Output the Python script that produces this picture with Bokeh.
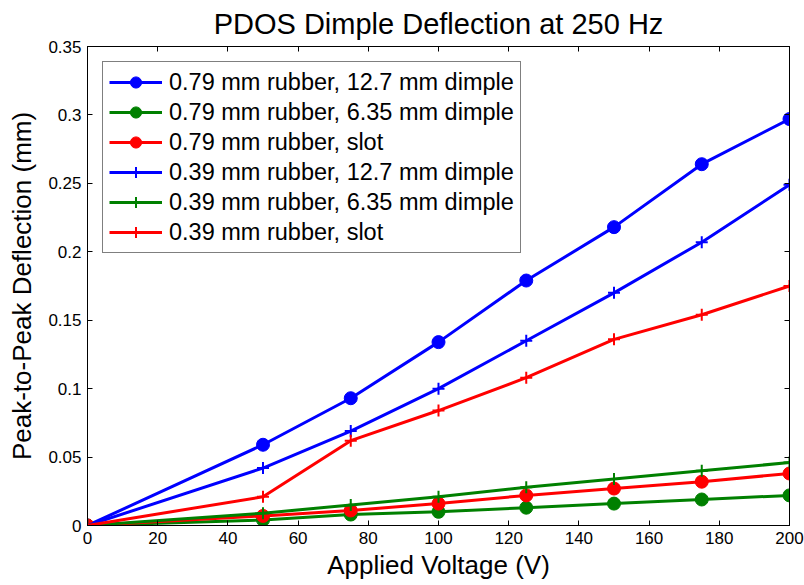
from bokeh.plotting import figure
from bokeh.models import (Legend, LegendItem, FixedTicker, CustomJSTickFormatter,
                          LinearAxis, Range1d)
from bokeh.embed import file_html
from bokeh.resources import INLINE

# ---- data ----
voltage = [0, 50, 75, 100, 125, 150, 175, 200]
r079_d127 = [0, 0.059, 0.093, 0.134, 0.179, 0.218, 0.264, 0.297]
r079_d635 = [0, 0.004, 0.008, 0.010, 0.013, 0.016, 0.019, 0.022]
r079_slot = [0, 0.007, 0.011, 0.016, 0.022, 0.027, 0.032, 0.038]
r039_d127 = [0, 0.042, 0.069, 0.100, 0.135, 0.170, 0.207, 0.249]
r039_d635 = [0, 0.009, 0.015, 0.021, 0.028, 0.034, 0.040, 0.046]
r039_slot = [0, 0.021, 0.062, 0.084, 0.108, 0.136, 0.154, 0.175]

labels = ["0.79 mm rubber, 12.7 mm dimple",
          "0.79 mm rubber, 6.35 mm dimple",
          "0.79 mm rubber, slot",
          "0.39 mm rubber, 12.7 mm dimple",
          "0.39 mm rubber, 6.35 mm dimple",
          "0.39 mm rubber, slot"]
series = [r079_d127, r079_d635, r079_slot, r039_d127, r039_d635, r039_slot]
colors = ["#0000FF", "#008000", "#FF0000", "#0000FF", "#008000", "#FF0000"]
markers = ["circle", "circle", "circle", "cross", "cross", "cross"]

x_ticks = [0, 20, 40, 60, 80, 100, 120, 140, 160, 180, 200]
y_ticks = [0, 0.05, 0.1, 0.15, 0.2, 0.25, 0.3, 0.35]

FONT = "Liberation Sans"

p = figure(width=804, height=584, output_backend="svg", toolbar_location=None,
           x_range=Range1d(0, 200), y_range=Range1d(0, 0.35),
           title="PDOS Dimple Deflection at 250 Hz",
           min_border_left=87, min_border_right=15, min_border_top=46,
           min_border_bottom=59)

p.title.text_font = FONT
p.title.text_font_size = "29px"
p.title.text_font_style = "normal"
p.title.text_color = "black"
p.title.align = "center"
p.title.vertical_align = "top"
p.title.text_line_height = 0.7

p.outline_line_color = "black"
p.outline_line_width = 1
p.xgrid.visible = False
p.ygrid.visible = False

fmt_y = CustomJSTickFormatter(code="return String(Number(tick.toFixed(2)));")

for ax in p.xaxis:
    ax.ticker = FixedTicker(ticks=x_ticks)
    ax.axis_label = "Applied Voltage (V)"
    ax.axis_label_standoff = 3
for ax in p.yaxis:
    ax.ticker = FixedTicker(ticks=y_ticks)
    ax.formatter = fmt_y
    ax.axis_label = "Peak-to-Peak Deflection (mm)"
    ax.axis_label_standoff = 8

for ax in list(p.xaxis) + list(p.yaxis):
    ax.major_tick_in = 5
    ax.major_tick_out = 0
    ax.minor_tick_line_color = None
    ax.major_label_standoff = 6
    ax.major_label_text_font = FONT
    ax.major_label_text_font_size = "17px"
    ax.major_label_text_color = "black"
    ax.axis_label_text_font = FONT
    ax.axis_label_text_font_size = "26px"
    ax.axis_label_text_font_style = "normal"
    ax.axis_label_text_color = "black"
    ax.axis_line_color = "black"
    ax.major_tick_line_color = "black"

blank = CustomJSTickFormatter(code="return '';")
top_ax = LinearAxis(ticker=FixedTicker(ticks=x_ticks), formatter=blank,
                    major_tick_in=5, major_tick_out=0, minor_tick_line_color=None,
                    major_label_standoff=0, major_tick_line_color="black",
                    axis_line_color="black")
right_ax = LinearAxis(ticker=FixedTicker(ticks=y_ticks), formatter=blank,
                      major_tick_in=5, major_tick_out=0, minor_tick_line_color=None,
                      major_label_standoff=0, major_tick_line_color="black",
                      axis_line_color="black")
p.add_layout(top_ax, "above")
p.add_layout(right_ax, "right")

items = []
for lab, ys, c, m in zip(labels, series, colors, markers):
    lr = p.line(voltage, ys, line_color=c, line_width=3)
    if m == "circle":
        sr = p.scatter(voltage, ys, marker="circle", size=13, fill_color=c,
                       line_color=c)
    else:
        sr = p.scatter(voltage, ys, marker="cross", size=12, line_color=c,
                       line_width=2)
    items.append(LegendItem(label=lab, renderers=[lr, sr]))

legend = Legend(items=items, location="top_left", margin=15, padding=6,
                spacing=2, label_height=28, glyph_height=28, glyph_width=53,
                label_standoff=7, label_text_font=FONT, label_text_color="black",
                label_text_font_size="23.5px", border_line_color="black",
                border_line_width=1, background_fill_color="white",
                background_fill_alpha=1.0)
p.add_layout(legend, "center")

open("out.html", "w").write(file_html(p, INLINE))
